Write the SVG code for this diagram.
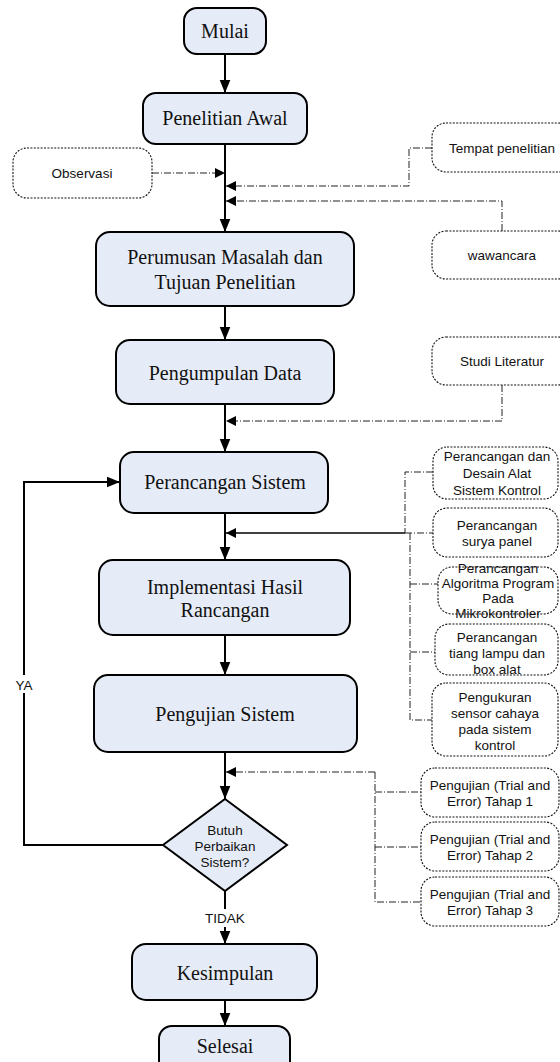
<svg xmlns="http://www.w3.org/2000/svg" width="560" height="1062" viewBox="0 0 560 1062">
<defs>
<style>
.main{fill:#E6ECF7;stroke:#000;stroke-width:2}
.note{fill:#fff;stroke:#111;stroke-width:1.1;stroke-dasharray:2 1.4}
.t{font-family:"Liberation Serif","Times New Roman",serif;font-size:20px;fill:#111;text-anchor:middle;dominant-baseline:central}
.s{font-family:"Liberation Sans",Arial,sans-serif;font-size:13.5px;fill:#111;text-anchor:middle;dominant-baseline:central}
.flow{fill:none;stroke:#000;stroke-width:2}
.dd{fill:none;stroke:#222;stroke-width:1;stroke-dasharray:7 2 1 2}
</style>
<marker id="ah" markerWidth="13" markerHeight="16" refX="16" refY="6.5" viewBox="0 0 16 13" markerUnits="userSpaceOnUse" orient="auto">
<path d="M0,0 L16,6.5 L0,13 Z" fill="#000"/>
</marker>
<marker id="as" markerWidth="10" markerHeight="10" refX="10" refY="5" viewBox="0 0 10 10" markerUnits="userSpaceOnUse" orient="auto">
<path d="M0,0 L10,5 L0,10 Z" fill="#000"/>
</marker>
</defs>
<rect width="560" height="1062" fill="#fff"/>

<g id="connectors">
<path class="flow" d="M225,54 V93" marker-end="url(#ah)"/>
<path class="flow" d="M225,144 V232" marker-end="url(#ah)"/>
<path class="flow" d="M225,306 V340" marker-end="url(#ah)"/>
<path class="flow" d="M225,404 V452" marker-end="url(#ah)"/>
<path class="flow" d="M225,513 V560" marker-end="url(#ah)"/>
<path class="flow" d="M225,635 V675" marker-end="url(#ah)"/>
<path class="flow" d="M225,752 V799" marker-end="url(#ah)"/>
<path class="flow" d="M225,891 V944" marker-end="url(#ah)"/>
<path class="flow" d="M225,1000 V1026" marker-end="url(#ah)"/>
<path class="flow" d="M163,845 H24 V482 H120" marker-end="url(#ah)"/>

<path class="dd" d="M152,173 H225" marker-end="url(#as)"/>
<path class="dd" d="M432,148 H409 V186 H226" marker-end="url(#as)"/>
<path class="dd" d="M502,231 V201 H226" marker-end="url(#as)"/>
<path class="dd" d="M502,385 V421 H226" marker-end="url(#as)"/>
<path class="dd" d="M433,472 H405 V533"/>
<path class="flow" style="stroke-width:1.6" d="M405,533 H226" marker-end="url(#as)"/>
<path class="dd" d="M405,533 H433"/>
<path class="dd" d="M410,533 V720 H432"/>
<path class="dd" d="M410,584 H438"/>
<path class="dd" d="M410,652 H435"/>
<path class="dd" d="M375,772 V902 H421"/>
<path class="dd" d="M375,792 H421"/>
<path class="dd" d="M375,847 H421"/>
<path class="dd" d="M375,772 H226" marker-end="url(#as)"/>

<rect x="12" y="675" width="24" height="18" fill="#fff"/>
<text class="s" x="24" y="685">YA</text>
<rect x="203" y="909" width="44" height="18" fill="#fff"/>
<text class="s" x="225" y="918">TIDAK</text>
</g>

<g id="mulai"><rect class="main" x="184" y="8" width="82" height="46" rx="13"/><text class="t" x="225" y="31">Mulai</text></g>
<g id="penelitian-awal"><rect class="main" x="143" y="93" width="164" height="51" rx="13"/><text class="t" x="225" y="118">Penelitian Awal</text></g>
<g id="observasi"><rect class="note" x="13" y="148" width="139" height="50" rx="14"/><text class="s" x="82" y="173">Observasi</text></g>
<g id="tempat"><rect class="note" x="432" y="123" width="140" height="49" rx="14"/><text class="s" x="502" y="148">Tempat penelitian</text></g>
<g id="wawancara"><rect class="note" x="432" y="231" width="140" height="48" rx="14"/><text class="s" x="502" y="255">wawancara</text></g>
<g id="perumusan"><rect class="main" x="96" y="232" width="258" height="74" rx="14"/><text class="t" x="225" y="257">Perumusan Masalah dan</text><text class="t" x="225" y="282">Tujuan Penelitian</text></g>
<g id="pengumpulan"><rect class="main" x="116" y="340" width="218" height="64" rx="14"/><text class="t" x="225" y="373">Pengumpulan Data</text></g>
<g id="studi"><rect class="note" x="432" y="337" width="140" height="48" rx="14"/><text class="s" x="502" y="361">Studi Literatur</text></g>
<g id="perancangan-sistem"><rect class="main" x="120" y="452" width="208" height="61" rx="14"/><text class="t" x="225" y="482">Perancangan Sistem</text></g>
<g id="desain"><rect class="note" x="433" y="447" width="125" height="52" rx="14"/><text class="s" x="497" y="456">Perancangan dan</text><text class="s" x="497" y="473">Desain Alat</text><text class="s" x="497" y="490">Sistem Kontrol</text></g>
<g id="surya"><rect class="note" x="433" y="508" width="125" height="49" rx="14"/><text class="s" x="497" y="525">Perancangan</text><text class="s" x="497" y="541">surya panel</text></g>
<g id="algoritma"><rect class="note" x="438" y="567" width="120" height="47" rx="14"/><text class="s" x="498" y="568">Perancangan</text><text class="s" x="498" y="583">Algoritma Program</text><text class="s" x="498" y="598">Pada</text><text class="s" x="498" y="613">Mikrokontroler</text></g>
<g id="tiang"><rect class="note" x="435" y="624" width="123" height="51" rx="14"/><text class="s" x="497" y="637">Perancangan</text><text class="s" x="497" y="653">tiang lampu dan</text><text class="s" x="497" y="669">box alat</text></g>
<g id="pengukuran"><rect class="note" x="432" y="683" width="126" height="73" rx="14"/><text class="s" x="495" y="697">Pengukuran</text><text class="s" x="495" y="713">sensor cahaya</text><text class="s" x="495" y="729">pada sistem</text><text class="s" x="495" y="745">kontrol</text></g>
<g id="implementasi"><rect class="main" x="99" y="560" width="251" height="75" rx="14"/><text class="t" x="225" y="587">Implementasi Hasil</text><text class="t" x="225" y="610">Rancangan</text></g>
<g id="pengujian-sistem"><rect class="main" x="94" y="675" width="263" height="77" rx="14"/><text class="t" x="225" y="714">Pengujian Sistem</text></g>
<g id="tahap1"><rect class="note" x="421" y="768" width="138" height="49" rx="14"/><text class="s" x="490" y="785">Pengujian (Trial and</text><text class="s" x="490" y="801">Error) Tahap 1</text></g>
<g id="tahap2"><rect class="note" x="421" y="822" width="138" height="49" rx="14"/><text class="s" x="490" y="839">Pengujian (Trial and</text><text class="s" x="490" y="855">Error) Tahap 2</text></g>
<g id="tahap3"><rect class="note" x="421" y="877" width="138" height="49" rx="14"/><text class="s" x="490" y="894">Pengujian (Trial and</text><text class="s" x="490" y="910">Error) Tahap 3</text></g>
<g id="keputusan"><path class="main" d="M225,799 L287,845 L225,891 L163,845 Z"/><text class="s" x="225" y="830">Butuh</text><text class="s" x="225" y="846">Perbaikan</text><text class="s" x="225" y="862">Sistem?</text></g>
<g id="kesimpulan"><rect class="main" x="132" y="944" width="185" height="56" rx="14"/><text class="t" x="225" y="973">Kesimpulan</text></g>
<g id="selesai"><rect class="main" x="159" y="1026" width="131" height="48" rx="13"/><text class="t" x="225" y="1046">Selesai</text></g>
</svg>
